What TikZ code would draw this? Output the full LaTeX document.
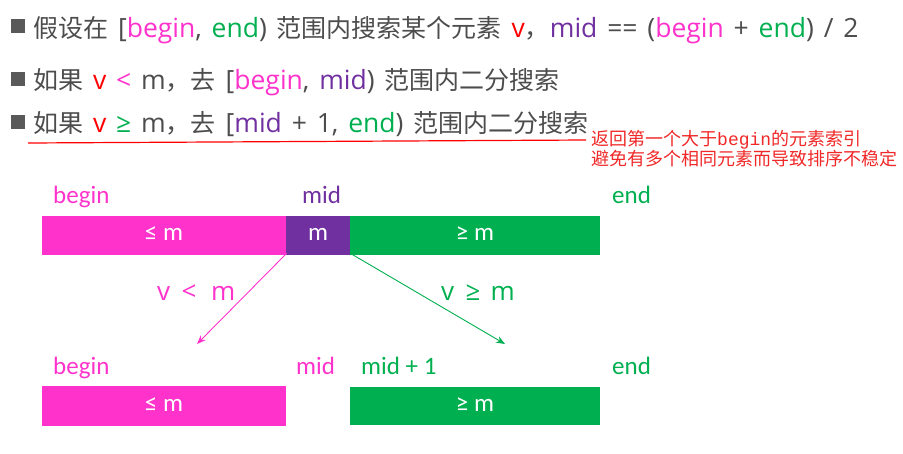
\documentclass[tikz,border=0pt]{standalone}
\usepackage{fontspec}
\usetikzlibrary{arrows.meta}
\setmainfont{Carlito}
\newfontfamily\cjk{Noto Sans CJK SC}
\newfontfamily\lat{Open Sans}
\newfontfamily\latw[WordSpace=1.43]{Open Sans}
\newfontfamily\monof{Liberation Mono}
\newcommand{\zh}[1]{{\cjk\fontsize{25}{30}\selectfont #1}}
\definecolor{pinkc}{HTML}{FF33CC}
\definecolor{purplec}{HTML}{7030A0}
\definecolor{greenc}{HTML}{00B050}
\definecolor{redc}{HTML}{FF0000}
\definecolor{notec}{HTML}{F02828}
\definecolor{grayc}{HTML}{4D4D4D}
\definecolor{bulletc}{HTML}{595959}
\begin{document}
\begin{tikzpicture}[x=1pt,y=-1pt,
  hdr/.style={inner sep=0pt, anchor=base west, text=grayc, font=\latw\fontsize{26.5}{30}\selectfont},
  bul/.style={fill=bulletc, minimum size=14pt, inner sep=0pt},
  note/.style={inner sep=0pt, anchor=base west, text=notec, font=\cjk\fontsize{18}{20}\selectfont},
  lbl/.style={inner sep=0pt, anchor=base west, font=\fontsize{25}{30}\selectfont},
  bar/.style={inner sep=0pt, text=white, font=\fontsize{25}{28}\selectfont, text height=13pt, text depth=3pt},
  cond/.style={inner sep=0pt, anchor=base west, font=\lat\fontsize{26}{30}\selectfont},
  arr/.style={line width=0.9pt, -{Stealth[length=9pt,width=7pt]}}
]
\useasboundingbox (0,0) rectangle (903,453);
% header
\node[bul] (b1) at (18,26) {};
\node[hdr] (l1) at (33,37) {\zh{假设在} [\textcolor{pinkc}{begin}, \textcolor{greenc}{end}) \zh{范围内搜索某个元素} \textcolor{redc}{v}\zh{，}\textcolor{purplec}{mid} == (\textcolor{pinkc}{begin} + \textcolor{greenc}{end}) / 2};
\node[bul] (b2) at (18,79) {};
\node[hdr] (l2) at (33,89) {\zh{如果} \textcolor{redc}{v} \textcolor{pinkc}{<} m\zh{，去} [\textcolor{pinkc}{begin}, \textcolor{purplec}{mid}) \zh{范围内二分搜索}};
\node[bul] (b3) at (18,122) {};
\node[hdr] (l3) at (33,132) {\zh{如果} \textcolor{redc}{v} \textcolor{greenc}{≥} m\zh{，去} [\textcolor{purplec}{mid} + 1, \textcolor{greenc}{end}) \zh{范围内二分搜索}};
\coordinate (u1) at (28,143);
\coordinate (u2) at (586,140);
\draw[redc, line width=1.2pt] (u1) -- (u2);
\node[note] (n1) at (591,145) {返回第一个大于{\monof begin}的元素索引};
\node[note] (n2) at (591,165) {避免有多个相同元素而导致排序不稳定};
% top row
\node[lbl, text=pinkc] (tb) at (53,203) {begin};
\node[lbl, text=purplec] (tm) at (302,203) {mid};
\node[lbl, text=greenc] (te) at (612,203) {end};
\node[bar, fill=pinkc, minimum width=244pt, minimum height=39pt] (p1) at (164,235.5) {≤ m};
\node[bar, fill=purplec, minimum width=64pt, minimum height=39pt] (m1) at (318,235.5) {m};
\node[bar, fill=greenc, minimum width=250pt, minimum height=39pt] (g1) at (475,235.5) {≥ m};
% arrows
\coordinate (e1) at (197,344);
\coordinate (e2) at (505,344);
\draw[arr, pinkc] ([xshift=1pt,yshift=2pt]m1.south west) -- (e1);
\draw[arr, greenc] ([xshift=2pt,yshift=1pt]g1.south west) -- (e2);
\node[cond, text=pinkc] (c1) at (157,300) {v\hspace{11.5pt}<\hspace{14.5pt}m};
\node[cond, text=greenc] (c2) at (441,300) {v\hspace{11.5pt}≥\hspace{10pt}m};
% bottom row
\node[lbl, text=pinkc] (bb) at (53,374) {begin};
\node[lbl, text=pinkc] (bm) at (296,374) {mid};
\node[lbl, text=greenc] (bm1) at (361,374) {mid + 1};
\node[lbl, text=greenc] (be) at (612,374) {end};
\node[bar, fill=pinkc, minimum width=244pt, minimum height=40pt] (p2) at (164,406) {≤ m};
\node[bar, fill=greenc, minimum width=250pt, minimum height=38pt] (g2) at (475,406) {≥ m};
\end{tikzpicture}
\end{document}
